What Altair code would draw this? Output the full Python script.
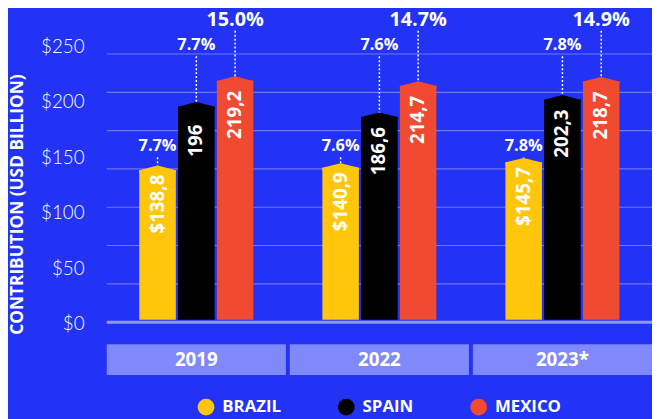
import altair as alt
import pandas as pd

years = ["2019", "2022", "2023*"]
countries = ["Brazil", "Spain", "Mexico"]
brazil = [138.8, 140.9, 145.7]
spain = [196.0, 186.6, 202.3]
mexico = [219.2, 214.7, 218.7]
brazil_labels = ["$138,8", "$140,9", "$145,7"]
spain_labels = ["196", "186,6", "202,3"]
mexico_labels = ["219,2", "214,7", "218,7"]
brazil_share = ["7.7%", "7.6%", "7.8%"]
spain_share = ["7.7%", "7.6%", "7.8%"]
mexico_share = ["15.0%", "14.7%", "14.9%"]
y_ticks = [0, 50, 100, 150, 200, 250]
grid_rows = list(range(8))
colors = ["#FFC60B", "#000000", "#F04A30"]

BG = "#2233F5"
BAND = "#8089F9"
GRID = "#6C76F7"
FONT = "Open Sans"

rows = []
for i, yr in enumerate(years):
    for c, vals, labs, shares in [
        ("Brazil", brazil, brazil_labels, brazil_share),
        ("Spain", spain, spain_labels, spain_share),
        ("Mexico", mexico, mexico_labels, mexico_share),
    ]:
        rows.append({"year": yr, "country": c, "value": vals[i],
                     "label": labs[i], "share": shares[i]})
df = pd.DataFrame(rows)
years_df = pd.DataFrame({"year": years})
grid_df = pd.DataFrame({"g": grid_rows})

yscale = alt.Scale(domain=[0, 250], range=[313, 32], nice=False, zero=False)
xscale = alt.Scale(domain=years, paddingInner=0.0214, paddingOuter=0)
xoff = alt.XOffset("country:N", sort=countries,
                   scale=alt.Scale(domain=countries, paddingInner=0.0585, paddingOuter=0.84))
X = alt.X("year:N", sort=years, scale=xscale, axis=None)

base = alt.Chart(df)

grid = alt.Chart(grid_df).mark_rule().encode(
    x=alt.value(0), x2=alt.value(570),
    y=alt.Y("g:Q", scale=alt.Scale(domain=[0, 7], range=[315.5, 44], nice=False, zero=False), axis=None),
    strokeWidth=alt.condition("datum.g == 0", alt.value(3), alt.value(1.2)),
    color=alt.condition("datum.g == 0", alt.value("#8F98FA"), alt.value(GRID)),
)

bars = base.mark_bar(yOffset=4.5).encode(
    x=X, xOffset=xoff,
    y=alt.Y("value:Q", scale=yscale,
            axis=alt.Axis(values=y_ticks, labelExpr="'$' + datum.value", grid=False,
                          ticks=False, domain=False, labelFont="Lato", labelFontWeight=300,
                          labelFontSize=19, labelColor="white", labelPadding=23,
                          labelOffset=4,
                          title="CONTRIBUTION (USD BILLION)", titleFont=FONT,
                          titleFontWeight="bold", titleFontSize=17.5, titleColor="white",
                          titleAngle=270, titleX=-90, titleY=196, titleAlign="center",
                          titleBaseline="middle")),
    y2=alt.datum(0),
    color=alt.Color("country:N", sort=countries,
                    scale=alt.Scale(domain=countries, range=colors),
                    legend=alt.Legend(orient="none", legendX=92, legendY=393,
                                      direction="horizontal", title=None,
                                      symbolType="circle", symbolSize=289,
                                      symbolStrokeWidth=0, symbolOpacity=1,
                                      labelFont=FONT, labelFontWeight="bold",
                                      labelFontSize=17, labelColor="white",
                                      labelOffset=8, columnPadding=57, padding=0,
                                      labelExpr="upper(datum.label)")),
)

caps = base.mark_point(shape="M-1,0.25L0,0L1,0.25L1,0.4L-1,0.4Z", size=1369,
                       filled=True, opacity=1, strokeWidth=0).encode(
    x=X, xOffset=xoff,
    y=alt.Y("value:Q", scale=yscale, axis=None),
    color=alt.Color("country:N", sort=countries,
                    scale=alt.Scale(domain=countries, range=colors), legend=None),
)

vlabels = base.mark_text(angle=270, align="center", baseline="middle", dx=-39,
                         font=FONT, fontWeight="bold", fontSize=19, color="white").encode(
    x=X, xOffset=xoff,
    y=alt.Y("value:Q", scale=yscale, axis=None),
    text="label:N",
)

tiered = base.transform_calculate(
    tier="datum.country == 'Brazil' ? 156 : (datum.country == 'Spain' ? 247 : 270)"
)

dots = tiered.mark_rule(yOffset=11, strokeDash=[2, 2], strokeWidth=1.5, color="white").encode(
    x=X, xOffset=xoff,
    y=alt.Y("tier:Q", scale=yscale, axis=None),
    y2="value:Q",
)

shares = tiered.mark_text(align="center", baseline="middle", font=FONT,
                          fontWeight="bold", color="white").encode(
    x=X, xOffset=xoff,
    y=alt.Y("tier:Q", scale=yscale, axis=None),
    text="share:N",
    size=alt.condition("datum.country == 'Mexico'", alt.value(20), alt.value(16.5)),
)

boxes = alt.Chart(years_df).mark_rect(color=BAND).encode(
    x=X, y=alt.value(338), y2=alt.value(369),
)
year_text = alt.Chart(years_df).mark_text(font=FONT, fontWeight="bold", fontSize=19,
                                          color="white", baseline="middle").encode(
    x=X, y=alt.value(353.5), text="year:N",
)

chart = alt.layer(grid, bars, caps, vlabels, dots, shares, boxes, year_text).resolve_scale(
    y="independent"
).properties(
    width=552, height=411,
    autosize=alt.AutoSizeParams(type="none"),
    padding={"left": 100, "top": 0, "right": 0, "bottom": 0},
    background=BG,
).configure_view(stroke=None)

chart.save("out.html", embed_options={"renderer": "svg", "actions": False})
